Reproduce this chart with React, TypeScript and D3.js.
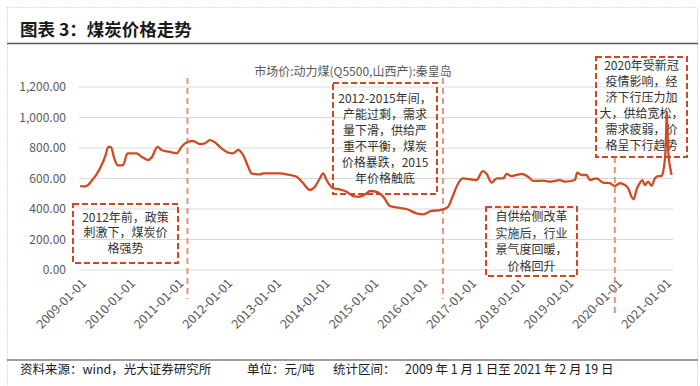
import React from "react";
import * as d3 from "d3";

const W = 700;
const H = 386;

const titleText = "图表 3：煤炭价格走势";
const seriesName = "市场价:动力煤(Q5500,山西产):秦皇岛";
const yTicks = [0, 200, 400, 600, 800, 1000, 1200];
const xTickYears = [2009, 2010, 2011, 2012, 2013, 2014, 2015, 2016, 2017, 2018, 2019, 2020, 2021];

const dates = [
  "2009-01-02", "2009-02-05", "2009-03-01", "2009-03-25", "2009-05-05", "2009-06-12", "2009-07-12",
  "2009-08-01", "2009-08-20", "2009-09-15", "2009-10-10", "2009-11-20", "2009-12-22", "2010-03-01",
  "2010-04-07", "2010-05-26", "2010-06-21", "2010-08-05", "2010-09-04", "2010-11-18", "2010-12-26",
  "2011-02-01", "2011-03-22", "2011-04-28", "2011-06-18", "2011-07-25", "2011-09-01", "2011-10-03",
  "2011-11-27", "2012-01-16", "2012-02-22", "2012-03-31", "2012-05-07", "2012-06-14", "2012-07-09",
  "2012-09-10", "2012-10-05", "2013-01-01", "2013-02-07", "2013-04-22", "2013-06-12", "2013-07-31",
  "2013-09-20", "2013-10-27", "2013-12-03", "2013-12-28", "2014-01-22", "2014-03-12", "2014-05-01",
  "2014-06-21", "2014-08-09", "2014-09-28", "2014-11-18", "2014-12-13", "2015-02-01", "2015-03-23",
  "2015-05-12", "2015-07-01", "2015-09-13", "2015-11-27", "2016-01-16", "2016-03-18", "2016-05-20",
  "2016-06-14", "2016-07-21", "2016-08-28", "2016-10-05", "2016-11-11", "2017-01-01", "2017-02-20",
  "2017-04-06", "2017-05-06", "2017-06-12", "2017-07-20", "2017-09-07", "2017-10-02", "2017-11-08",
  "2017-12-16", "2018-01-22", "2018-03-12", "2018-04-19", "2018-07-03", "2018-08-22", "2018-11-05",
  "2018-12-13", "2019-02-26", "2019-03-15", "2019-04-17", "2019-05-24", "2019-06-18", "2019-08-07",
  "2019-09-25", "2019-11-14", "2019-12-21", "2020-01-28", "2020-02-22", "2020-03-31", "2020-04-25",
  "2020-05-12", "2020-06-01", "2020-06-26", "2020-07-16", "2020-08-03", "2020-08-28", "2020-09-22",
  "2020-10-17", "2020-11-11", "2020-12-06", "2020-12-18", "2020-12-28", "2021-01-05", "2021-01-10",
  "2021-01-14", "2021-01-20", "2021-01-28", "2021-02-08", "2021-02-19",
];

const prices = [
  550, 548, 557, 580, 627, 688, 754,
  808, 808, 732, 686, 688, 765, 765,
  743, 721, 737, 808, 787, 772, 765,
  808, 841, 846, 826, 830, 852, 841,
  798, 770, 765, 787, 754, 677, 634,
  627, 634, 634, 634, 623, 612, 569,
  525, 546, 601, 634, 590, 536, 529,
  513, 485, 481, 503, 518, 513, 481,
  420, 410, 400, 372, 365, 387, 393,
  398, 415, 492, 569, 601, 595, 590,
  649, 630, 573, 601, 601, 630, 616,
  623, 630, 612, 584, 586, 579, 590,
  579, 590, 638, 623, 623, 590, 601,
  573, 569, 551, 569, 564, 536, 481,
  464, 525, 569, 590, 557, 579, 551,
  601, 616, 616, 645, 700, 787, 918,
  1038, 896, 743, 677, 623,
];

const markerDates = ["2011-03-17", "2016-06-12", "2019-12-22"];

const boxTexts = [
  ["2012年前，政策", "刺激下，煤炭价", "格强势"],
  ["2012-2015年间，", "产能过剩，需求", "量下滑，供给严", "重不平衡，煤炭", "价格暴跌，2015", "年价格触底"],
  ["自供给侧改革", "实施后，行业", "景气度回暖，", "价格回升"],
  ["2020年受新冠", "疫情影响，经", "济下行压力加", "大，供给宽松，", "需求疲弱，价", "格呈下行趋势"],
];

const footerSource = "资料来源：wind，光大证券研究所";
const footerUnit = "单位：元/吨";
const footerRangeLabel = "统计区间：";
const footerRange = "2009 年 1 月 1 日至 2021 年 2 月 19 日";

// layout
const plot = { left: 80, right: 665, top: 87, bottom: 270, gridLeft: 79, gridRight: 673 };
const boxLayout = [
  { x: 73, y: 204, w: 105, h: 59, lineH: 15.7, first: 217.5 },
  { x: 333, y: 83, w: 104, h: 111, lineH: 15.9, first: 98.8 },
  { x: 486, y: 207, w: 91, h: 69, lineH: 16.6, first: 216.7 },
  { x: 596, y: 57, w: 91, h: 100, lineH: 16, first: 65.8 },
];
const markerLayout = [
  { y1: 78, y2: 299 },
  { y1: 78, y2: 299 },
  { y1: 157, y2: 317 },
];

const FONT = "'Noto Sans CJK SC', 'Noto Sans', sans-serif";
const LINE_COLOR = "#d04a22";
const BOX_COLOR = "#d4461f";
const MARKER_COLOR = "#e8927c";

export default function App() {
  const parse = d3.timeParse("%Y-%m-%d");
  const x = d3
    .scaleTime()
    .domain([new Date(2009, 0, 1), new Date(2021, 0, 1)])
    .range([plot.left, plot.right]);
  const y = d3.scaleLinear().domain([0, 1200]).range([plot.bottom, plot.top]);
  const data = dates.map((d, i) => ({ date: parse(d) as Date, value: prices[i] }));
  const line = d3
    .line<{ date: Date; value: number }>()
    .x((d) => x(d.date))
    .y((d) => y(d.value))
    .curve(d3.curveMonotoneX);
  const fmt = d3.format(",.2f");

  return (
    <svg
      width={W}
      height={H}
      style={{ position: "absolute", left: 0, top: 0, background: "#fff" }}
      fontFamily={FONT}
    >
      <rect x={0} y={0} width={W} height={H} fill="#fff" />
      {/* dotted frame */}
      <line x1={7.5} y1={7.5} x2={697.5} y2={7.5} stroke="#bfbfbf" strokeDasharray="1,2" />
      <line x1={7.5} y1={7.5} x2={7.5} y2={386} stroke="#bfbfbf" strokeDasharray="1,2" />
      <line x1={697.5} y1={7.5} x2={697.5} y2={386} stroke="#bfbfbf" strokeDasharray="1,2" />

      {/* title */}
      <text x={20} y={36} fontSize={17.5} fontWeight="bold" fill="#1a1a1a">
        {titleText}
      </text>
      <line x1={7} y1={43.5} x2={698} y2={43.5} stroke="#595959" strokeWidth={1.5} />

      {/* series name */}
      <text x={353} y={76} fontSize={12} fill="#595959" textAnchor="middle">
        {seriesName}
      </text>

      {/* grid + y labels */}
      {yTicks.map((t) => (
        <g key={t}>
          <line
            x1={plot.gridLeft}
            x2={plot.gridRight}
            y1={y(t)}
            y2={y(t)}
            stroke="#d9d9d9"
            strokeWidth={1}
          />
          <text
            x={66}
            y={y(t)}
            dy="0.35em"
            fontSize={12}
            fill="#595959"
            textAnchor="end"
          >
            {fmt(t)}
          </text>
        </g>
      ))}

      {/* x labels */}
      {xTickYears.map((yr) => {
        const px = x(new Date(yr, 0, 1));
        return (
          <text
            key={yr}
            transform={`translate(${px + 4},${281}) rotate(-45)`}
            fontSize={12.5}
            fill="#595959"
            textAnchor="end"
            dy="0.35em"
          >
            {`${yr}-01-01`}
          </text>
        );
      })}

      {/* marker lines */}
      {markerDates.map((d, i) => {
        const px = x(parse(d) as Date);
        return (
          <line
            key={d}
            x1={px}
            x2={px}
            y1={markerLayout[i].y1}
            y2={markerLayout[i].y2}
            stroke={MARKER_COLOR}
            strokeWidth={2}
            strokeDasharray="6,4"
          />
        );
      })}

      {/* annotation boxes */}
      {boxTexts.map((lines, i) => {
        const b = boxLayout[i];
        return (
          <g key={i}>
            <rect
              x={b.x}
              y={b.y}
              width={b.w}
              height={b.h}
              fill="none"
              stroke={BOX_COLOR}
              strokeWidth={2}
              strokeDasharray="6,3"
            />
            {lines.map((s, j) => (
              <text
                key={j}
                x={b.x + b.w / 2}
                y={b.first + j * b.lineH}
                dy="0.35em"
                fontSize={12}
                fill="#333"
                textAnchor="middle"
              >
                {s}
              </text>
            ))}
          </g>
        );
      })}

      {/* price line */}
      <path d={line(data) || ""} fill="none" stroke={LINE_COLOR} strokeWidth={2.3} strokeLinejoin="round" />

      {/* footer */}
      <line x1={7} y1={360} x2={698} y2={360} stroke="#404040" strokeWidth={1.2} />
      <text x={20} y={374} fontSize={12.5} fill="#1a1a1a">
        {footerSource}
      </text>
      <text x={247} y={374} fontSize={12.5} fill="#1a1a1a">
        {footerUnit}
      </text>
      <text x={333} y={374} fontSize={12.5} fill="#1a1a1a">
        {footerRangeLabel}
      </text>
      <text x={405} y={374} fontSize={12.5} fill="#1a1a1a">
        {footerRange}
      </text>
    </svg>
  );
}
